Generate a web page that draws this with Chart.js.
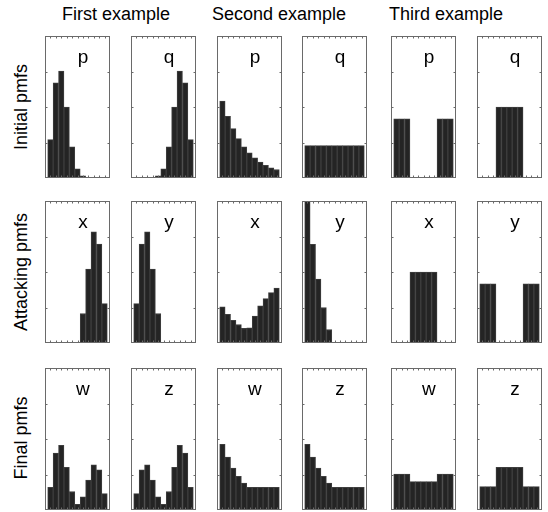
<!DOCTYPE html>
<html>
<head>
<meta charset="utf-8">
<script src="https://cdn.jsdelivr.net/npm/chart.js@4"></script>
<style>
  html, body { margin: 0; padding: 0; background: #fff; }
  body { width: 548px; height: 512px; position: relative; overflow: hidden;
         font-family: "Liberation Sans", Arial, sans-serif; color: #000; }
  .panel { position: absolute; }
  .panel canvas { display: block; }
  .title { position: absolute; top: 4px; font-size: 18px; white-space: nowrap; transform: translateX(-50%); color: #000; }
  .rowlab { position: absolute; font-size: 18px; white-space: nowrap; color: #000;
            transform: translate(-50%, -50%) rotate(-90deg); }
</style>
</head>
<body>
<script>
// ---- data ----
const bins = [1, 2, 3, 4, 5, 6, 7, 8, 9, 10, 11];
const yTicks = [0.1, 0.2, 0.3];
const columnTitles = ["First example", "Second example", "Third example"];
const rowLabels = ["Initial pmfs", "Attacking pmfs", "Final pmfs"];
const panelLetters = [["p", "q"], ["x", "y"], ["w", "z"]];

const firstP  = [0.108, 0.268, 0.301, 0.200, 0.088, 0.026, 0.006, 0.002, 0.001, 0, 0];
const firstQ  = [0, 0, 0.001, 0.002, 0.006, 0.026, 0.088, 0.200, 0.301, 0.268, 0.108];
const secondP = [0.217, 0.174, 0.139, 0.111, 0.088, 0.071, 0.057, 0.045, 0.036, 0.029, 0.024];
const secondQ = [0.091, 0.091, 0.091, 0.091, 0.091, 0.091, 0.091, 0.091, 0.091, 0.091, 0.091];
const thirdP  = [0.167, 0.167, 0.167, 0, 0, 0, 0, 0, 0.167, 0.167, 0.167];
const thirdQ  = [0, 0, 0, 0.2, 0.2, 0.2, 0.2, 0.2, 0, 0, 0];

const firstX  = [0, 0, 0, 0, 0, 0, 0.083, 0.208, 0.313, 0.279, 0.111];
const firstY  = [0.111, 0.279, 0.313, 0.208, 0.083, 0, 0, 0, 0, 0, 0];
const secondX = [0.102, 0.081, 0.064, 0.052, 0.041, 0.043, 0.076, 0.105, 0.125, 0.142, 0.155];
const secondY = [0.404, 0.278, 0.180, 0.100, 0.038, 0, 0, 0, 0, 0, 0];
const thirdX  = [0, 0, 0, 0.2, 0.2, 0.2, 0.2, 0.2, 0, 0, 0];
const thirdY  = [0.167, 0.167, 0.167, 0, 0, 0, 0, 0, 0.167, 0.167, 0.167];

const firstW  = [0.064, 0.160, 0.182, 0.120, 0.052, 0.016, 0.037, 0.084, 0.127, 0.113, 0.046];
const firstZ  = [0.046, 0.113, 0.127, 0.084, 0.037, 0.016, 0.052, 0.120, 0.182, 0.160, 0.064];
const secondW = [0.185, 0.149, 0.118, 0.095, 0.076, 0.064, 0.064, 0.064, 0.064, 0.064, 0.064];
const secondZ = [0.185, 0.149, 0.118, 0.095, 0.076, 0.064, 0.064, 0.064, 0.064, 0.064, 0.064];
const thirdW  = [0.101, 0.101, 0.101, 0.080, 0.080, 0.080, 0.080, 0.080, 0.101, 0.101, 0.101];
const thirdZ  = [0.066, 0.066, 0.066, 0.120, 0.120, 0.120, 0.120, 0.120, 0.066, 0.066, 0.066];

const grid = [
  [firstP, firstQ, secondP, secondQ, thirdP, thirdQ],
  [firstX, firstY, secondX, secondY, thirdX, thirdY],
  [firstW, firstZ, secondW, secondZ, thirdW, thirdZ]
];

// ---- layout ----
const colLeft = [45, 131, 217, 302, 391, 477];
const rowTop = [36, 201, 368];
const panelW = 65, panelH = 142;
const titleX = [116, 279, 446];
const rowLabelY = [107, 272, 438];

columnTitles.forEach((t, i) => {
  const d = document.createElement('div');
  d.className = 'title'; d.textContent = t; d.style.left = titleX[i] + 'px';
  document.body.appendChild(d);
});
rowLabels.forEach((t, i) => {
  const d = document.createElement('div');
  d.className = 'rowlab'; d.textContent = t;
  d.style.left = '21px'; d.style.top = rowLabelY[i] + 'px';
  document.body.appendChild(d);
});

const framePlugin = {
  id: 'frame',
  afterDatasetsDraw(chart, args, opts) {
    const ctx = chart.ctx, a = chart.chartArea;
    const xs = chart.scales.x, ys = chart.scales.y;
    ctx.save();
    ctx.strokeStyle = '#6a6a6a';
    ctx.lineWidth = 1;
    ctx.strokeRect(a.left + 0.5, a.top + 0.5, a.right - a.left - 1, a.bottom - a.top - 1);
    ctx.beginPath();
    for (let v = 1; v <= 11; v++) {
      const px = Math.round(xs.getPixelForValue(v)) + 0.5;
      ctx.moveTo(px, a.top); ctx.lineTo(px, a.top + 2.5);
      ctx.moveTo(px, a.bottom); ctx.lineTo(px, a.bottom - 2.5);
    }
    yTicks.forEach(v => {
      const py = Math.round(ys.getPixelForValue(v)) + 0.5;
      ctx.moveTo(a.left, py); ctx.lineTo(a.left + 2.5, py);
      ctx.moveTo(a.right, py); ctx.lineTo(a.right - 2.5, py);
    });
    ctx.stroke();
    ctx.fillStyle = '#000';
    ctx.font = '19px "Liberation Sans", Arial, sans-serif';
    ctx.textAlign = 'center';
    ctx.textBaseline = 'middle';
    ctx.fillText(opts.letter, xs.getPixelForValue(7), ys.getPixelForValue(0.34));
    ctx.restore();
  }
};

grid.forEach((row, r) => {
  row.forEach((vals, c) => {
    const div = document.createElement('div');
    div.className = 'panel';
    div.style.left = colLeft[c] + 'px';
    div.style.top = rowTop[r] + 'px';
    const cv = document.createElement('canvas');
    cv.width = panelW; cv.height = panelH;
    cv.style.width = panelW + 'px'; cv.style.height = panelH + 'px';
    div.appendChild(cv);
    document.body.appendChild(div);
    new Chart(cv, {
      type: 'bar',
      data: {
        datasets: [{
          data: bins.map((b, i) => ({ x: b, y: vals[i] })),
          backgroundColor: '#242424',
          borderColor: '#3e3e3e',
          borderWidth: 1,
          borderSkipped: 'bottom',
          barPercentage: 1,
          categoryPercentage: 1
        }]
      },
      options: {
        responsive: false,
        devicePixelRatio: 1,
        animation: false,
        layout: { padding: 0 },
        plugins: { legend: { display: false }, tooltip: { enabled: false }, frame: { letter: panelLetters[r][c % 2] } },
        scales: {
          x: { type: 'linear', min: 0, max: 12, offset: false, display: false, grid: { offset: false } },
          y: { min: 0, max: 0.4, display: false }
        }
      },
      plugins: [framePlugin]
    });
  });
});
</script>
</body>
</html>
